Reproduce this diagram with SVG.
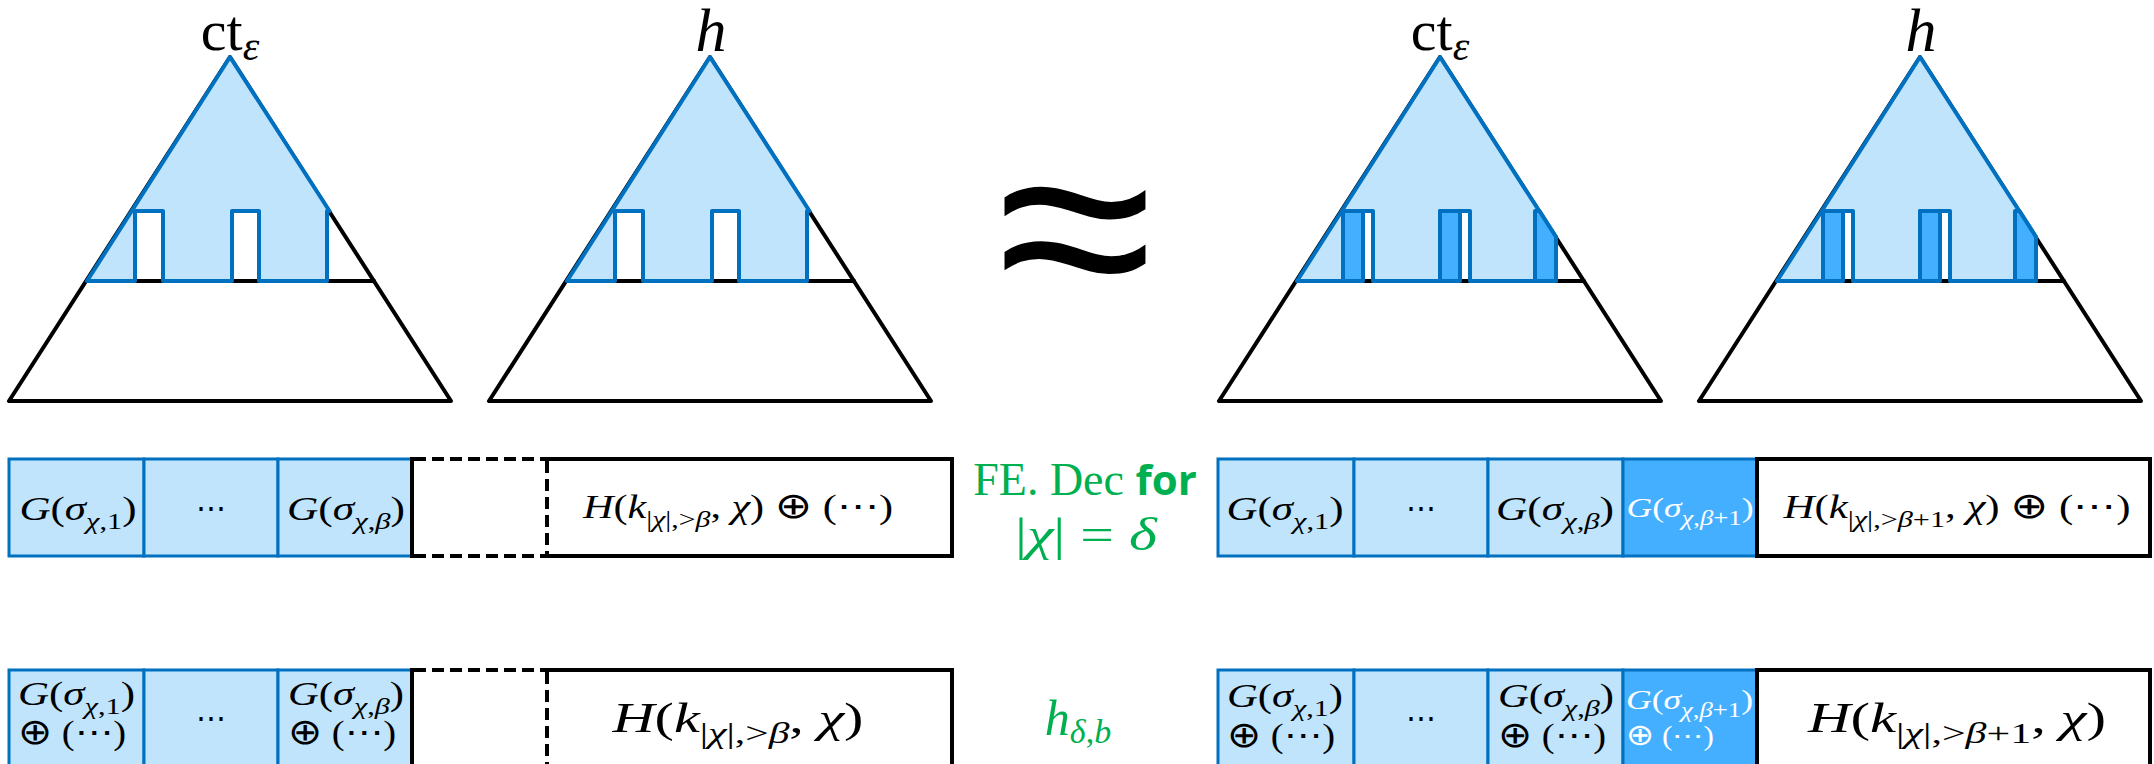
<svg xmlns="http://www.w3.org/2000/svg" width="2154" height="764" viewBox="0 0 2154 764">
<style>
.bk{fill:#fff;stroke:#000;stroke-width:4;stroke-linejoin:round;stroke-linecap:round}
.ln{fill:none;stroke:#000;stroke-width:4;stroke-linecap:round}
.bl{fill:#BFE4FC;stroke:#0070C0;stroke-width:4;stroke-linejoin:round;stroke-linecap:round}
.dk{fill:#44AFFF;stroke:#0070C0;stroke-width:4;stroke-linejoin:round}
.cl{fill:#BFE4FC;stroke:#0070C0;stroke-width:3}
.cd{fill:#44AFFF;stroke:#0070C0;stroke-width:3}
.sol{fill:none;stroke:#000;stroke-width:4}
.dash{fill:none;stroke:#000;stroke-width:4;stroke-dasharray:12 6}
text{font-family:"Liberation Serif","DejaVu Serif",serif;fill:#000}
.i{font-style:italic}
.w{fill:#fff}
.g{fill:#00B050}
.b{font-family:"Open Sans","Liberation Sans",sans-serif;font-weight:bold}
.op{font-family:"DejaVu Sans",sans-serif}
</style>

<!-- Triangle 1: ct_eps (left) -->
<g id="tri-ct-left">
  <polygon class="bk" points="230,57 9,401 451,401"/>
  <line class="ln" x1="87" y1="281" x2="374" y2="281"/>
  <polygon class="bl" points="230,57 87,281 135,281 135,211 163,211 163,281 232,281 232,211 259,211 259,281 327,281 327,211 329.5,211"/>
  <text x="230" y="50" text-anchor="middle" font-size="58">ct<tspan class="i" font-size="42" dy="10">ε</tspan></text>
</g>

<!-- Triangle 2: h (left) -->
<g id="tri-h-left">
  <polygon class="bk" points="710,57 489,401 931,401"/>
  <line class="ln" x1="567" y1="281" x2="854" y2="281"/>
  <polygon class="bl" points="710,57 567,281 615,281 615,211 643,211 643,281 712,281 712,211 739,211 739,281 807,281 807,211 809.5,211"/>
  <text class="i" x="711" y="51" text-anchor="middle" font-size="62">h</text>
</g>

<!-- approx -->
<g id="approx">
  <text x="1075" y="306" text-anchor="middle" font-size="230" style="font-family:'Liberation Sans',sans-serif" transform="translate(1075 230) scale(1.24 1.15) translate(-1075 -230)">≈</text>
</g>

<!-- Triangle 3: ct_eps (right) -->
<g id="tri-ct-right">
  <polygon class="bk" points="1440,57 1219,401 1661,401"/>
  <line class="ln" x1="1297" y1="281" x2="1584" y2="281"/>
  <polygon class="bl" points="1440,57 1297,281 1343,281 1343,211 1373,211 1373,281 1440,281 1440,211 1470,211 1470,281 1556,281 1556,237"/>
  <rect class="dk" x="1343" y="211" width="20" height="70"/>
  <rect class="dk" x="1440" y="211" width="20" height="70"/>
  <polygon class="dk" points="1535,211 1539.5,211 1556,237 1556,281 1535,281"/>
  <text x="1440" y="50" text-anchor="middle" font-size="58">ct<tspan class="i" font-size="42" dy="10">ε</tspan></text>
</g>

<!-- Triangle 4: h (right) -->
<g id="tri-h-right">
  <polygon class="bk" points="1920,57 1699,401 2141,401"/>
  <line class="ln" x1="1777" y1="281" x2="2064" y2="281"/>
  <polygon class="bl" points="1920,57 1777,281 1823,281 1823,211 1853,211 1853,281 1920,281 1920,211 1950,211 1950,281 2036,281 2036,237"/>
  <rect class="dk" x="1823" y="211" width="20" height="70"/>
  <rect class="dk" x="1920" y="211" width="20" height="70"/>
  <polygon class="dk" points="2015,211 2019.5,211 2036,237 2036,281 2015,281"/>
  <text class="i" x="1921" y="51" text-anchor="middle" font-size="62">h</text>
</g>

<!-- Row 1 left: ciphertext blocks -->
<g id="row1-left">
  <rect class="cl" x="9" y="459" width="135" height="97"/>
  <rect class="cl" x="144" y="459" width="134" height="97"/>
  <rect class="cl" x="278" y="459" width="134" height="97"/>
  <path class="sol" d="M547,459 H952 V556 H547"/>
  <line class="sol" x1="412" y1="457" x2="412" y2="558"/>
  <path class="dash" d="M414,459 H547 M414,556 H547 M547,461 V556"/>
  <text x="78" y="520" text-anchor="middle" font-size="34" textLength="117" lengthAdjust="spacingAndGlyphs"><tspan class="i">G</tspan>(<tspan class="i">σ</tspan><tspan class="i" font-size="24" dy="9">χ</tspan><tspan font-size="24">,1</tspan><tspan dy="-9">)</tspan></text>
  <text x="211" y="518" text-anchor="middle" font-size="30">⋯</text>
  <text x="346" y="520" text-anchor="middle" font-size="34" textLength="118" lengthAdjust="spacingAndGlyphs"><tspan class="i">G</tspan>(<tspan class="i">σ</tspan><tspan class="i" font-size="24" dy="9">χ</tspan><tspan font-size="24">,</tspan><tspan class="i" font-size="24">β</tspan><tspan dy="-9">)</tspan></text>
  <text x="738" y="518" text-anchor="middle" font-size="34" textLength="310" lengthAdjust="spacingAndGlyphs"><tspan class="i">H</tspan>(<tspan class="i">k</tspan><tspan font-size="24" dy="9">|<tspan class="i">χ</tspan>|,&gt;<tspan class="i">β</tspan></tspan><tspan dy="-9">, </tspan><tspan class="i">χ</tspan>) <tspan class="op" font-size="36">⊕</tspan> (⋯)</text>
</g>

<!-- Middle label 1 -->
<g id="label-fe-dec">
  <text class="g" x="1085" y="495" text-anchor="middle" font-size="46">FE. Dec <tspan class="b g" font-size="42">for</tspan></text>
  <text class="g" x="1086" y="550" text-anchor="middle" font-size="46" textLength="142" lengthAdjust="spacingAndGlyphs">|<tspan class="i">χ</tspan>| = <tspan class="i">δ</tspan></text>
</g>

<!-- Row 1 right -->
<g id="row1-right">
  <rect class="cl" x="1218" y="459" width="136" height="97"/>
  <rect class="cl" x="1354" y="459" width="134" height="97"/>
  <rect class="cl" x="1488" y="459" width="135" height="97"/>
  <rect class="cd" x="1623" y="459" width="134" height="97"/>
  <rect class="sol" x="1757" y="459" width="393" height="97"/>
  <text x="1285" y="520" text-anchor="middle" font-size="34" textLength="117" lengthAdjust="spacingAndGlyphs"><tspan class="i">G</tspan>(<tspan class="i">σ</tspan><tspan class="i" font-size="24" dy="9">χ</tspan><tspan font-size="24">,1</tspan><tspan dy="-9">)</tspan></text>
  <text x="1421" y="518" text-anchor="middle" font-size="30">⋯</text>
  <text x="1555" y="520" text-anchor="middle" font-size="34" textLength="118" lengthAdjust="spacingAndGlyphs"><tspan class="i">G</tspan>(<tspan class="i">σ</tspan><tspan class="i" font-size="24" dy="9">χ</tspan><tspan font-size="24">,</tspan><tspan class="i" font-size="24">β</tspan><tspan dy="-9">)</tspan></text>
  <text class="w" x="1690" y="517" text-anchor="middle" font-size="28" textLength="127" lengthAdjust="spacingAndGlyphs"><tspan class="i">G</tspan>(<tspan class="i">σ</tspan><tspan class="i" font-size="21" dy="8">χ</tspan><tspan font-size="21">,</tspan><tspan class="i" font-size="21">β</tspan><tspan font-size="21">+1</tspan><tspan dy="-8">)</tspan></text>
  <text x="1957" y="518" text-anchor="middle" font-size="34" textLength="347" lengthAdjust="spacingAndGlyphs"><tspan class="i">H</tspan>(<tspan class="i">k</tspan><tspan font-size="24" dy="9">|<tspan class="i">χ</tspan>|,&gt;<tspan class="i">β</tspan>+1</tspan><tspan dy="-9">, </tspan><tspan class="i">χ</tspan>) <tspan class="op" font-size="36">⊕</tspan> (⋯)</text>
</g>

<!-- Middle label 2 -->
<g id="label-h">
  <text class="g i" x="1078" y="735" text-anchor="middle" font-size="50">h<tspan font-size="34" dy="8">δ</tspan><tspan font-size="34" font-style="normal">,</tspan><tspan font-size="34">b</tspan></text>
</g>

<!-- Row 2 left -->
<g id="row2-left">
  <rect class="cl" x="9" y="670" width="135" height="100"/>
  <rect class="cl" x="144" y="670" width="134" height="100"/>
  <rect class="cl" x="278" y="670" width="134" height="100"/>
  <path class="sol" d="M547,670 H952 V772"/>
  <line class="sol" x1="412" y1="668" x2="412" y2="772"/>
  <path class="dash" d="M414,670 H547 M547,672 V770"/>
  <text x="18" y="705" font-size="34" textLength="117" lengthAdjust="spacingAndGlyphs"><tspan class="i">G</tspan>(<tspan class="i">σ</tspan><tspan class="i" font-size="24" dy="9">χ</tspan><tspan font-size="24">,1</tspan><tspan dy="-9">)</tspan></text>
  <text x="18" y="744" font-size="34" textLength="108" lengthAdjust="spacingAndGlyphs"><tspan class="op" font-size="36">⊕</tspan> (⋯)</text>
  <text x="211" y="728" text-anchor="middle" font-size="30">⋯</text>
  <text x="288" y="705" font-size="34" textLength="116" lengthAdjust="spacingAndGlyphs"><tspan class="i">G</tspan>(<tspan class="i">σ</tspan><tspan class="i" font-size="24" dy="9">χ</tspan><tspan font-size="24">,</tspan><tspan class="i" font-size="24">β</tspan><tspan dy="-9">)</tspan></text>
  <text x="288" y="744" font-size="34" textLength="108" lengthAdjust="spacingAndGlyphs"><tspan class="op" font-size="36">⊕</tspan> (⋯)</text>
  <text x="738" y="732" text-anchor="middle" font-size="42" textLength="251" lengthAdjust="spacingAndGlyphs"><tspan class="i">H</tspan>(<tspan class="i">k</tspan><tspan font-size="30" dy="11">|<tspan class="i">χ</tspan>|,&gt;<tspan class="i">β</tspan></tspan><tspan dy="-11">, </tspan><tspan class="i">χ</tspan>)</text>
</g>

<!-- Row 2 right -->
<g id="row2-right">
  <rect class="cl" x="1218" y="670" width="136" height="100"/>
  <rect class="cl" x="1354" y="670" width="134" height="100"/>
  <rect class="cl" x="1488" y="670" width="135" height="100"/>
  <rect class="cd" x="1623" y="670" width="134" height="100"/>
  <rect class="sol" x="1757" y="670" width="393" height="100"/>
  <text x="1227" y="707" font-size="34" textLength="116" lengthAdjust="spacingAndGlyphs"><tspan class="i">G</tspan>(<tspan class="i">σ</tspan><tspan class="i" font-size="24" dy="9">χ</tspan><tspan font-size="24">,1</tspan><tspan dy="-9">)</tspan></text>
  <text x="1227" y="747" font-size="34" textLength="108" lengthAdjust="spacingAndGlyphs"><tspan class="op" font-size="36">⊕</tspan> (⋯)</text>
  <text x="1421" y="728" text-anchor="middle" font-size="30">⋯</text>
  <text x="1498" y="707" font-size="34" textLength="116" lengthAdjust="spacingAndGlyphs"><tspan class="i">G</tspan>(<tspan class="i">σ</tspan><tspan class="i" font-size="24" dy="9">χ</tspan><tspan font-size="24">,</tspan><tspan class="i" font-size="24">β</tspan><tspan dy="-9">)</tspan></text>
  <text x="1498" y="747" font-size="34" textLength="108" lengthAdjust="spacingAndGlyphs"><tspan class="op" font-size="36">⊕</tspan> (⋯)</text>
  <text class="w" x="1626" y="709" font-size="28" textLength="127" lengthAdjust="spacingAndGlyphs"><tspan class="i">G</tspan>(<tspan class="i">σ</tspan><tspan class="i" font-size="21" dy="8">χ</tspan><tspan font-size="21">,</tspan><tspan class="i" font-size="21">β</tspan><tspan font-size="21">+1</tspan><tspan dy="-8">)</tspan></text>
  <text class="w" x="1626" y="745" font-size="28" textLength="88" lengthAdjust="spacingAndGlyphs"><tspan class="op" font-size="30">⊕</tspan> (⋯)</text>
  <text x="1957" y="732" text-anchor="middle" font-size="42" textLength="298" lengthAdjust="spacingAndGlyphs"><tspan class="i">H</tspan>(<tspan class="i">k</tspan><tspan font-size="30" dy="11">|<tspan class="i">χ</tspan>|,&gt;<tspan class="i">β</tspan>+1</tspan><tspan dy="-11">, </tspan><tspan class="i">χ</tspan>)</text>
</g>
</svg>
